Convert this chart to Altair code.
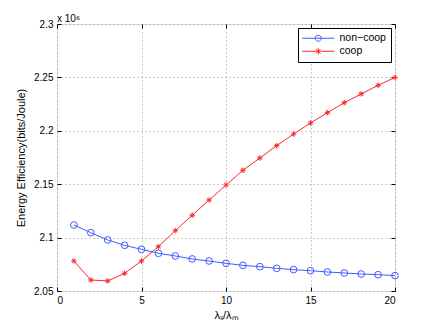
import altair as alt
import pandas as pd

ratio = list(range(1, 21))
noncoop = [2.1118, 2.1046, 2.0978, 2.0928, 2.0890, 2.0853, 2.0828, 2.0800, 2.0781, 2.0759,
           2.0740, 2.0728, 2.0712, 2.0700, 2.0690, 2.0678, 2.0669, 2.0659, 2.0653, 2.0644]
coop = [2.0781, 2.0603, 2.0594, 2.0666, 2.0781, 2.0915, 2.1065, 2.1209, 2.1352, 2.1492,
        2.1630, 2.1745, 2.1861, 2.1970, 2.2073, 2.2170, 2.2263, 2.2345, 2.2426, 2.2500]
series_names = ["non\u2212coop", "coop"]
x_ticks = [0, 5, 10, 15, 20]
y_ticks = [2.05, 2.1, 2.15, 2.2, 2.25, 2.3]

BLUE = "#3d5cff"
RED = "#ff2626"
STAR = "M-1,0L1,0M0,-1L0,1M-0.7,-0.7L0.7,0.7M-0.7,0.7L0.7,-0.7"
LEG_CIRCLE = "M-4,0L4,0M-0.75,0A0.75,0.75 0 1,0 0.75,0A0.75,0.75 0 1,0 -0.75,0"
LEG_STAR = "M-4,0L4,0M0,-0.8L0,0.8M-0.56,-0.56L0.56,0.56M-0.56,0.56L0.56,-0.56"

df = pd.DataFrame({
    "ratio": ratio * 2,
    "ee": noncoop + coop,
    "series": [series_names[0]] * len(ratio) + [series_names[1]] * len(ratio),
})

FONT = "Liberation Sans"
xscale = alt.Scale(domain=[0, 20], nice=False)
yscale = alt.Scale(domain=[2.05, 2.3], nice=False, zero=False)
cscale = alt.Scale(domain=series_names, range=[BLUE, RED])

grid_kw = dict(grid=True, gridColor="#9a9a9a", gridDash=[1, 3], gridWidth=1)

legend = alt.Legend(
    title=None, orient="top-right", offset=4, padding=5,
    strokeColor="#000", fillColor="#fff",
    labelFont=FONT, labelFontSize=10.5, labelColor="#000",
    symbolSize=64, symbolStrokeWidth=1, symbolOffset=10, labelOffset=16,
    symbolFillColor="transparent", rowPadding=2,
    symbolType={"expr": "datum.value === 'coop' ? '%s' : '%s'" % (LEG_STAR, LEG_CIRCLE)},
)

lines = alt.Chart(df).mark_line(strokeWidth=1).encode(
    x=alt.X("ratio:Q", scale=xscale,
            axis=alt.Axis(orient="bottom", values=x_ticks, title="\u03bb\u209b/\u03bb\u2098",
                          ticks=False, domain=False, labelFontSize=10, titleFontSize=11,
                          labelFont=FONT, titleFont=FONT, titleFontWeight="normal",
                          labelColor="#000", titleColor="#000", labelPadding=4,
                          titlePadding=4, **grid_kw)),
    y=alt.Y("ee:Q", scale=yscale,
            axis=alt.Axis(orient="left", values=y_ticks, title="Energy Efficiency(bits/Joule)",
                          ticks=False, domain=False, labelFontSize=10, titleFontSize=11,
                          labelFont=FONT, titleFont=FONT, titleFontWeight="normal",
                          labelColor="#000", titleColor="#000", labelPadding=4,
                          titlePadding=7, labelExpr="datum.value == 2.3 ? '2.3' : format(datum.value, '.2~f')",
                          **grid_kw)),
    color=alt.Color("series:N", scale=cscale, legend=legend),
    detail="series:N",
)

tick_kw = dict(labels=False, domain=False, grid=False, ticks=True, tickSize=4,
               tickColor="#000", title=None)

pts_non = alt.Chart(df).transform_filter(
    alt.datum.series == series_names[0]
).mark_point(filled=False, strokeWidth=1, size=45, opacity=1, shape="circle", color=BLUE).encode(
    x=alt.X("ratio:Q", scale=xscale, axis=alt.Axis(orient="bottom", values=x_ticks, offset=-4, **tick_kw)),
    y=alt.Y("ee:Q", scale=yscale, axis=alt.Axis(orient="left", values=y_ticks, offset=-4, **tick_kw)),
)

pts_coop = alt.Chart(df).transform_filter(
    alt.datum.series == series_names[1]
).mark_point(filled=False, strokeWidth=1, size=30, opacity=1, shape=STAR, color=RED).encode(
    x=alt.X("ratio:Q", scale=xscale, axis=alt.Axis(orient="top", values=x_ticks, offset=-4, **tick_kw)),
    y=alt.Y("ee:Q", scale=yscale, axis=alt.Axis(orient="right", values=y_ticks, offset=-4, **tick_kw)),
)

chart = alt.layer(lines, pts_non, pts_coop).resolve_axis(
    x="independent", y="independent"
).properties(
    width=338, height=267,
    autosize=alt.AutoSizeParams(type="none"),
    padding={"left": 49, "top": 16, "right": 33, "bottom": 29},
    title=alt.TitleParams(text="x 10\u2076", anchor="start", frame="group", font=FONT,
                          fontSize=10, fontWeight="normal", color="#000", offset=5, dy=10),
).configure_view(stroke="#222", strokeWidth=1).configure(background="white")

chart.save("out.html", embed_options={"renderer": "svg", "actions": False})
